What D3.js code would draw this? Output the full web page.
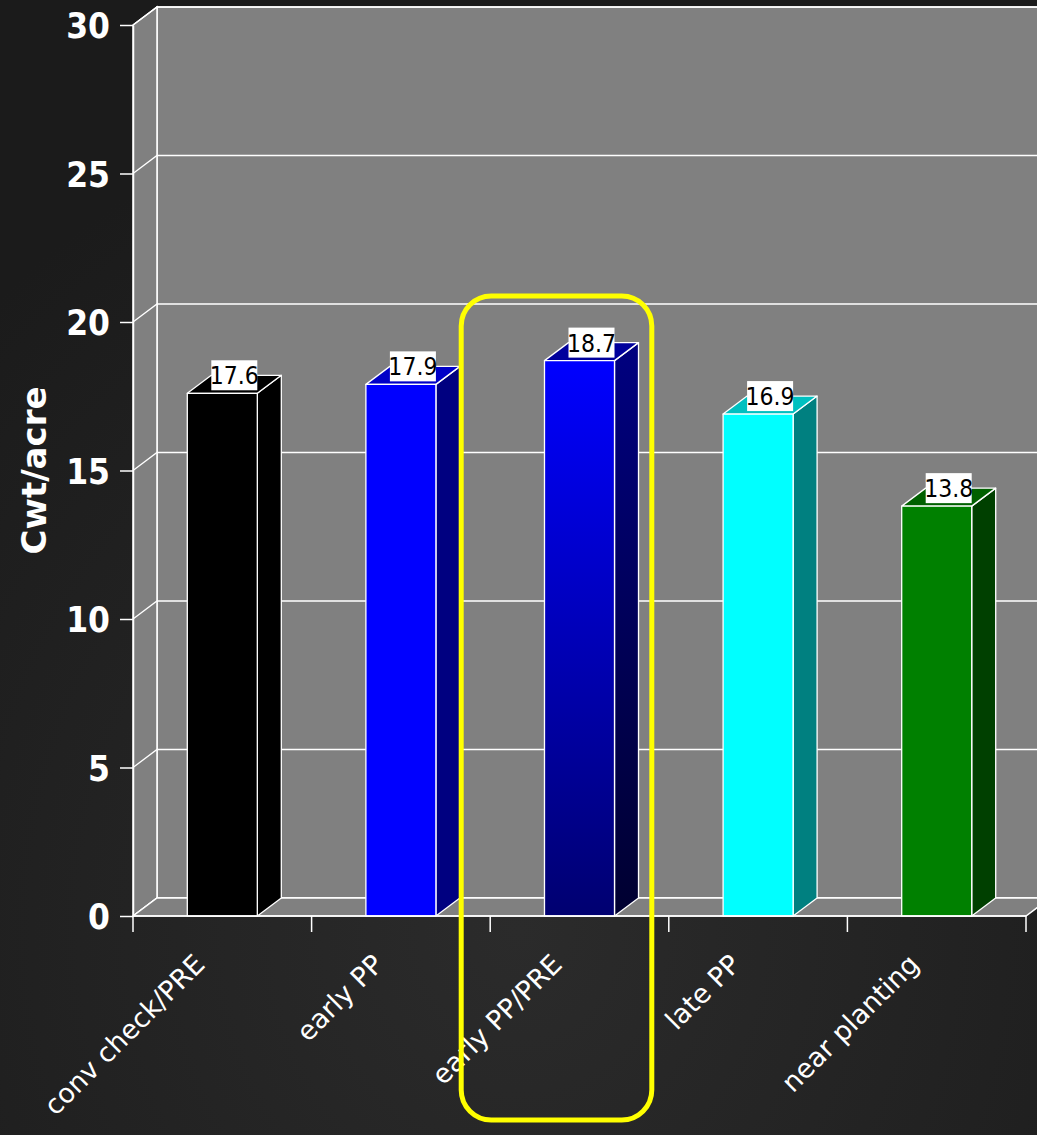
<!DOCTYPE html>
<html>
<head>
<meta charset="utf-8">
<script src="https://cdn.jsdelivr.net/npm/d3@7"></script>
<style>
html,body{margin:0;padding:0;background:#1e1e1e;}
svg{display:block;}
</style>
</head>
<body>
<script>
const categories = ["conv check/PRE", "early PP", "early PP/PRE", "late PP", "near planting"];
const values = [17.6, 17.9, 18.7, 16.9, 13.8];
const valueLabels = ["17.6", "17.9", "18.7", "16.9", "13.8"];
const yTicks = [0, 5, 10, 15, 20, 25, 30];
const yTitle = "Cwt/acre";
const highlighted = "early PP/PRE";
const frontColors = ["#000000", "#0000ff", "url(#gFront)", "#00ffff", "#008000"];
const sideColors = ["#000000", "#000080", "url(#gSide)", "#008080", "#004000"];
const topColors = ["#000000", "#0000c8", "#00009c", "#00c0c0", "#006000"];

const W = 1037, H = 1135;
const depthX = 24, depthY = -18;

const svg = d3.select("body").append("svg").attr("width", W).attr("height", H);
const defs = svg.append("defs");
const bg = defs.append("radialGradient").attr("id", "bg").attr("cx", "50%").attr("cy", "82%").attr("r", "75%");
bg.append("stop").attr("offset", "0%").attr("stop-color", "#2b2b2b");
bg.append("stop").attr("offset", "100%").attr("stop-color", "#1b1b1b");
const gf = defs.append("linearGradient").attr("id", "gFront").attr("x1", 0).attr("y1", 0).attr("x2", 0).attr("y2", 1);
gf.append("stop").attr("offset", "0%").attr("stop-color", "#0000ff");
gf.append("stop").attr("offset", "100%").attr("stop-color", "#000070");
const gs = defs.append("linearGradient").attr("id", "gSide").attr("x1", 0).attr("y1", 0).attr("x2", 0).attr("y2", 1);
gs.append("stop").attr("offset", "0%").attr("stop-color", "#000080");
gs.append("stop").attr("offset", "100%").attr("stop-color", "#000030");

svg.append("rect").attr("width", W).attr("height", H).attr("fill", "url(#bg)");

const x = d3.scaleBand().domain(categories).range([133, 1026]).padding(0);
const y = d3.scaleLinear().domain([0, 30]).range([916, 25]);
const barW = x.bandwidth() * 0.392;
const x0 = x.range()[0], x1 = x.range()[1];
const yTop = y(30), yBase = y(0);

const g = svg.append("g");
const line = "#ffffff";

// back wall
g.append("rect").attr("x", x0 + depthX).attr("y", yTop + depthY)
  .attr("width", x1 - x0 + 10).attr("height", yBase - yTop)
  .attr("fill", "#808080").attr("stroke", line).attr("stroke-width", 1.5);
// left side wall
g.append("polygon").attr("points", [[x0, yTop], [x0 + depthX, yTop + depthY], [x0 + depthX, yBase + depthY], [x0, yBase]].join(" "))
  .attr("fill", "#808080").attr("stroke", line).attr("stroke-width", 1.5);
// gridlines
yTicks.forEach(v => {
  g.append("polyline").attr("points", [[x0, y(v)], [x0 + depthX, y(v) + depthY], [W + 5, y(v) + depthY]].join(" "))
    .attr("fill", "none").attr("stroke", line).attr("stroke-width", 1.3);
});
// floor
g.append("polygon").attr("points", [[x0, yBase], [x0 + depthX, yBase + depthY], [x1 + depthX, yBase + depthY], [x1, yBase]].join(" "))
  .attr("fill", "#808080").attr("stroke", line).attr("stroke-width", 1.5);

// bars
categories.forEach((c, i) => {
  const cx = x(c) + x.bandwidth() / 2;
  const l = cx - barW / 2, r = cx + barW / 2;
  const t = y(values[i]);
  const bg2 = g.append("g").attr("stroke", line).attr("stroke-width", 1.3).attr("stroke-linejoin", "round");
  bg2.append("polygon").attr("points", [[r, t], [r + depthX, t + depthY], [r + depthX, yBase + depthY], [r, yBase]].join(" "))
    .attr("fill", sideColors[i]);
  bg2.append("polygon").attr("points", [[l, t], [l + depthX, t + depthY], [r + depthX, t + depthY], [r, t]].join(" "))
    .attr("fill", topColors[i]);
  bg2.append("rect").attr("x", l).attr("y", t).attr("width", barW).attr("height", yBase - t)
    .attr("fill", frontColors[i]);
});

// value labels
categories.forEach((c, i) => {
  const cx = x(c) + x.bandwidth() / 2 + depthX / 2;
  const cy = y(values[i]) + depthY;
  const lg = g.append("g").attr("transform", `translate(${cx},${cy})`);
  lg.append("rect").attr("x", -23).attr("y", -15).attr("width", 46).attr("height", 30).attr("fill", "#ffffff");
  lg.append("text").attr("text-anchor", "middle").attr("y", 9)
    .attr("font-family", "'DejaVu Sans Condensed', 'DejaVu Sans', sans-serif").attr("font-stretch", "condensed")
    .attr("font-size", 24.5).attr("fill", "#000000").text(valueLabels[i]);
});

// y axis
const yAxis = svg.append("g").attr("transform", `translate(${x0},0)`)
  .call(d3.axisLeft(y).tickValues(yTicks).tickSize(13).tickSizeOuter(0).tickPadding(10).tickFormat(d3.format("d")));
yAxis.select(".domain").attr("stroke", line).attr("stroke-width", 1.5);
yAxis.selectAll(".tick line").attr("stroke", line).attr("stroke-width", 1.5);
yAxis.selectAll(".tick text").attr("fill", "#ffffff")
  .attr("font-family", "'DejaVu Sans Condensed', 'DejaVu Sans', sans-serif").attr("font-stretch", "condensed")
  .attr("font-weight", "bold").attr("font-size", 35).attr("dy", "0.36em");

// x axis line, ticks, labels
const xa = svg.append("g");
xa.append("line").attr("x1", x0).attr("x2", x1).attr("y1", yBase).attr("y2", yBase).attr("stroke", line).attr("stroke-width", 1.5);
categories.concat([null]).forEach((c, i) => {
  const tx = c === null ? x1 : x(c);
  xa.append("line").attr("x1", tx).attr("x2", tx).attr("y1", yBase).attr("y2", yBase + 16).attr("stroke", line).attr("stroke-width", 1.5);
});
categories.forEach(c => {
  const cx = x(c) + x.bandwidth() / 2;
  xa.append("text").attr("transform", `translate(${cx - 16},${yBase + 50}) rotate(-45)`)
    .attr("text-anchor", "end").attr("fill", "#ffffff")
    .attr("font-family", "'DejaVu Sans', sans-serif").attr("font-size", 27).text(c);
});

// y title
svg.append("text").attr("transform", `translate(46,${(y(0) + y(30)) / 2}) rotate(-90)`)
  .attr("text-anchor", "middle").attr("fill", "#ffffff").attr("font-family", "'DejaVu Sans', sans-serif")
  .attr("font-weight", "bold").attr("font-size", 34).text(yTitle);

// highlight box
const hx = x(highlighted);
svg.append("rect").attr("x", hx - 29).attr("y", y(20) - 26)
  .attr("width", x.bandwidth() + 12).attr("height", H - 15 - (y(20) - 26))
  .attr("rx", 30).attr("ry", 30).attr("fill", "none").attr("stroke", "#ffff00").attr("stroke-width", 5);
</script>
</body>
</html>
